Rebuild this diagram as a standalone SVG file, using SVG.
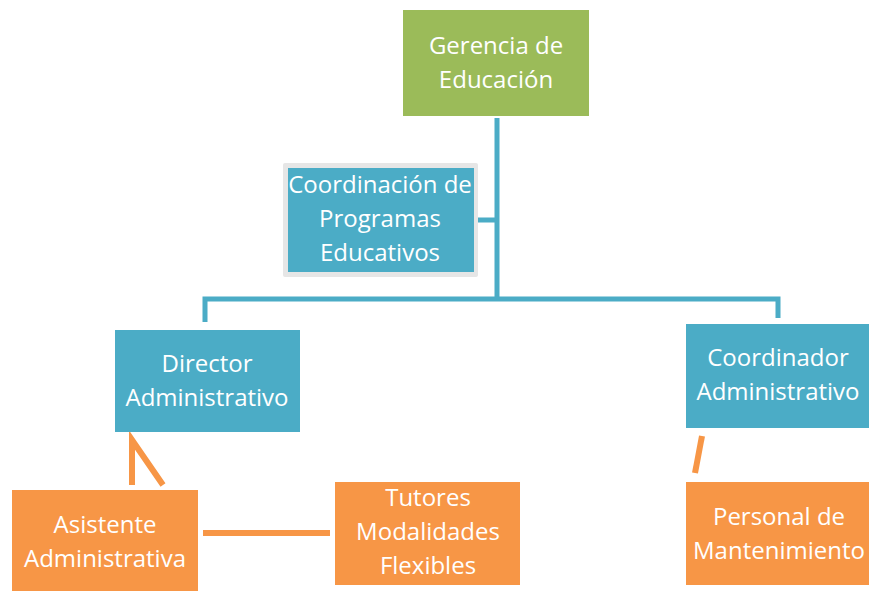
<svg xmlns="http://www.w3.org/2000/svg" width="869" height="591" viewBox="0 0 869 591">
<style>
.t{font-family:"Open Sans","Noto Sans",sans-serif;font-size:24px;fill:#fff;text-anchor:middle}
.blue{fill:#4BACC6}
.orange{fill:#F79646}
.green{fill:#9BBB59}
.cb{stroke:#4BACC6;stroke-width:5;fill:none}
.co{stroke:#F79646;stroke-width:6;fill:none}
</style>
<rect width="869" height="591" fill="#fff"/>
<g id="connectors">
<path class="cb" d="M497 118V300M474 220H497M205 322V299H778V318"/>
<path class="co" d="M132 485V440L163 485"/>
<path class="co" d="M203 533H330"/>
<path class="co" d="M702 436L695 473"/>
</g>
<g id="gerencia">
<rect class="green" x="403" y="10" width="186" height="106"/>
<text class="t" x="496" y="54">Gerencia de</text>
<text class="t" x="496" y="88">Educación</text>
</g>
<g id="coordinacion">
<rect x="283" y="163" width="195" height="114" fill="#E6E6E6" rx="2"/>
<rect class="blue" x="288" y="168" width="186" height="104"/>
<text class="t" x="380" y="193">Coordinación de</text>
<text class="t" x="380" y="227">Programas</text>
<text class="t" x="380" y="261">Educativos</text>
</g>
<g id="director">
<rect class="blue" x="115" y="330" width="185" height="102"/>
<text class="t" x="207" y="372">Director</text>
<text class="t" x="207" y="406">Administrativo</text>
</g>
<g id="coordinador">
<rect class="blue" x="686" y="324" width="190" height="104"/>
<text class="t" x="778" y="366">Coordinador</text>
<text class="t" x="778" y="400">Administrativo</text>
</g>
<g id="asistente">
<rect class="orange" x="12" y="490" width="186" height="101"/>
<text class="t" x="105" y="533">Asistente</text>
<text class="t" x="105" y="567">Administrativa</text>
</g>
<g id="tutores">
<rect class="orange" x="335" y="482" width="185" height="103"/>
<text class="t" x="428" y="506">Tutores</text>
<text class="t" x="428" y="540">Modalidades</text>
<text class="t" x="428" y="574">Flexibles</text>
</g>
<g id="personal">
<rect class="orange" x="686" y="482" width="190" height="103"/>
<text class="t" x="779" y="525">Personal de</text>
<text class="t" x="779" y="559">Mantenimiento</text>
</g>
</svg>
